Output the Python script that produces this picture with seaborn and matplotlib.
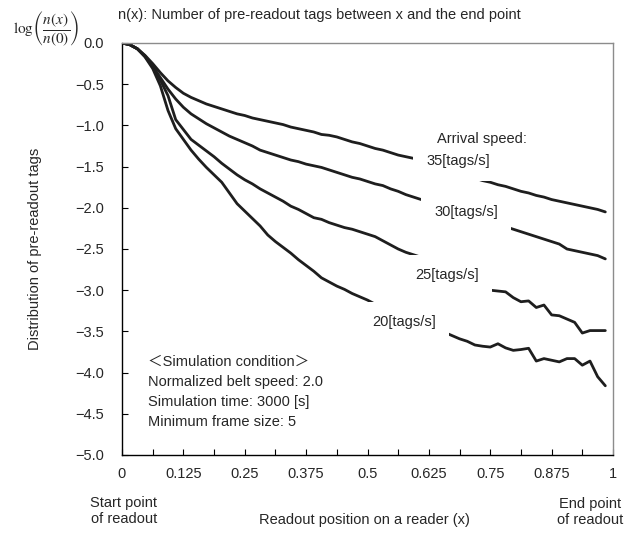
import numpy as np
import pandas as pd
import matplotlib
matplotlib.use('Agg')
import matplotlib.pyplot as plt
import seaborn as sns
from matplotlib.ticker import FixedLocator, FixedFormatter

# ---------------- data ----------------
positions = [k / 64 for k in range(64)]
speed_labels = ['35[tags/s]', '30[tags/s]', '25[tags/s]', '20[tags/s]']

y35 = [0, -0.02, -0.07, -0.15, -0.25, -0.36, -0.46, -0.54, -0.61, -0.66,
       -0.70, -0.74, -0.77, -0.80, -0.83, -0.86, -0.88, -0.91, -0.93, -0.95,
       -0.97, -0.99, -1.02, -1.04, -1.06, -1.08, -1.11, -1.12, -1.14, -1.17,
       -1.20, -1.22, -1.25, -1.28, -1.30, -1.33, -1.36, -1.38, -1.40, -1.43,
       -1.46, -1.49, -1.52, -1.55, -1.58, -1.61, -1.64, -1.67, -1.69, -1.72,
       -1.74, -1.77, -1.80, -1.82, -1.85, -1.87, -1.90, -1.92, -1.94, -1.96,
       -1.98, -2.00, -2.02, -2.05]

y30 = [0, -0.02, -0.07, -0.16, -0.28, -0.42, -0.56, -0.68, -0.78, -0.86,
       -0.92, -0.98, -1.03, -1.08, -1.13, -1.17, -1.21, -1.25, -1.30, -1.33,
       -1.36, -1.39, -1.42, -1.44, -1.47, -1.49, -1.51, -1.54, -1.57, -1.60,
       -1.63, -1.65, -1.68, -1.71, -1.73, -1.77, -1.80, -1.84, -1.87, -1.90,
       -1.93, -1.96, -1.99, -2.02, -2.05, -2.08, -2.11, -2.14, -2.17, -2.20,
       -2.23, -2.26, -2.29, -2.32, -2.35, -2.38, -2.41, -2.44, -2.50, -2.52,
       -2.54, -2.56, -2.58, -2.62]

y25 = [0, -0.02, -0.07, -0.16, -0.29, -0.45, -0.64, -0.93, -1.05, -1.17,
       -1.24, -1.31, -1.38, -1.46, -1.53, -1.60, -1.66, -1.71, -1.77, -1.82,
       -1.87, -1.92, -1.98, -2.02, -2.07, -2.12, -2.14, -2.18, -2.21, -2.24,
       -2.26, -2.29, -2.32, -2.35, -2.40, -2.45, -2.50, -2.54, -2.57, -2.60,
       -2.63, -2.67, -2.71, -2.76, -2.81, -2.86, -2.91, -2.96, -3.00, -3.01,
       -3.02, -3.09, -3.14, -3.13, -3.21, -3.18, -3.30, -3.31, -3.35, -3.39,
       -3.52, -3.49, -3.49, -3.49]

y20 = [0, -0.02, -0.07, -0.17, -0.31, -0.52, -0.82, -1.04, -1.17, -1.30,
       -1.41, -1.51, -1.60, -1.69, -1.82, -1.95, -2.04, -2.13, -2.22, -2.33,
       -2.41, -2.48, -2.55, -2.63, -2.70, -2.77, -2.85, -2.90, -2.95, -2.99,
       -3.04, -3.08, -3.12, -3.17, -3.22, -3.27, -3.31, -3.35, -3.38, -3.41,
       -3.45, -3.48, -3.51, -3.55, -3.59, -3.62, -3.665, -3.68, -3.69, -3.65,
       -3.70, -3.73, -3.72, -3.705, -3.86, -3.83, -3.85, -3.87, -3.83, -3.83,
       -3.91, -3.86, -4.05, -4.16]

x_ticks = [0, 0.125, 0.25, 0.375, 0.5, 0.625, 0.75, 0.875, 1.0]
x_tick_labels = ['0', '0.125', '0.25', '0.375', '0.5', '0.625', '0.75', '0.875', '1']
x_minor = [0.0625, 0.1875, 0.3125, 0.4375, 0.5625, 0.6875, 0.8125, 0.9375]
y_ticks = [0, -0.5, -1.0, -1.5, -2.0, -2.5, -3.0, -3.5, -4.0, -4.5, -5.0]
y_tick_labels = ['0.0', '\u22120.5', '\u22121.0', '\u22121.5', '\u22122.0', '\u22122.5',
                 '\u22123.0', '\u22123.5', '\u22124.0', '\u22124.5', '\u22125.0']

condition_lines = ['\uff1cSimulation condition\uff1e', 'Normalized belt speed: 2.0',
                   'Simulation time: 3000 [s]', 'Minimum frame size: 5']

# ---------------- style ----------------
sns.set_style('white')
plt.rcParams['font.family'] = ['Liberation Sans', 'Noto Sans CJK JP', 'DejaVu Sans']
plt.rcParams['mathtext.fontset'] = 'stix'

FS = 10.5
fig = plt.figure(figsize=(6.24, 5.34), dpi=100)
ax = fig.add_axes([122 / 624, 1 - 455 / 534, (613 - 122) / 624, (455 - 43) / 534])

series = {lab: ys for lab, ys in zip(speed_labels, [y35, y30, y25, y20])}
df = pd.DataFrame([
    {'x': x, 'y': y, 'speed': lab}
    for lab, ys in series.items() for x, y in zip(positions, ys)
])
sns.lineplot(data=df, x='x', y='y', hue='speed', hue_order=speed_labels,
             palette=['#1e1e1e'] * 4, legend=False, linewidth=2.0, ax=ax)

ax.set_xlim(0, 1)
ax.set_ylim(-5, 0)
ax.set_xlabel('')
ax.set_ylabel('')
ax.xaxis.set_major_locator(FixedLocator(x_ticks))
ax.xaxis.set_major_formatter(FixedFormatter(x_tick_labels))
ax.xaxis.set_minor_locator(FixedLocator(x_minor))
ax.yaxis.set_major_locator(FixedLocator(y_ticks))
ax.yaxis.set_major_formatter(FixedFormatter(y_tick_labels))
ax.tick_params(axis='x', which='both', bottom=True, direction='in', length=4,
               width=0.8, color='black', labelsize=FS, pad=9)
ax.tick_params(axis='y', which='both', left=True, direction='in', length=4,
               width=0.8, color='black', labelsize=FS, pad=13)

for s in ['top', 'right']:
    ax.spines[s].set_color('#8c8c8c')
    ax.spines[s].set_linewidth(1.0)
for s in ['left', 'bottom']:
    ax.spines[s].set_color('black')
    ax.spines[s].set_linewidth(1.0)

# y label
ax.set_ylabel('Distribution of pre-readout tags', fontsize=FS)
ax.yaxis.set_label_coords((42 - 122) / 491, 0.5)

# x label and end notes
ax.text((364 - 122) / 491, (455 - 520) / 412, 'Readout position on a reader (x)',
        transform=ax.transAxes, ha='center', va='center', fontsize=FS)
fig.text(124 / 624, 1 - 511 / 534, 'Start point\nof readout', ha='center', va='center',
         fontsize=FS, linespacing=1.2)
fig.text(590 / 624, 1 - 512 / 534, 'End point\nof readout', ha='center', va='center',
         fontsize=FS, linespacing=1.2)

# header texts
fig.text(118 / 624, 1 - 15 / 534,
         'n(x): Number of pre-readout tags between x and the end point',
         ha='left', va='center', fontsize=FS)
fig.text(46 / 624, 1 - 29 / 534, r'$\log\!\left(\dfrac{n(x)}{n(0)}\right)$',
         ha='center', va='center', fontsize=11)

# simulation condition block
for i, line in enumerate(condition_lines):
    ax.text((148 - 122) / 491, (455 - (362 + 20 * i)) / 412, line,
            transform=ax.transAxes, ha='left', va='center', fontsize=FS)

# curve labels with white boxes
label_pos = [(426, 161), (434, 212), (415, 275), (372, 322)]
for lab, (px, py) in zip(speed_labels, label_pos):
    ax.text((px - 122) / 491, (455 - py) / 412, lab, transform=ax.transAxes,
            ha='left', va='center', fontsize=FS, zorder=4,
            bbox=dict(facecolor='white', edgecolor='none', boxstyle='square,pad=0.9'))
ax.text((437 - 122) / 491, (455 - 139) / 412, 'Arrival speed:', transform=ax.transAxes,
        ha='left', va='center', fontsize=FS, zorder=6)

fig.savefig('out.png', dpi=100)
